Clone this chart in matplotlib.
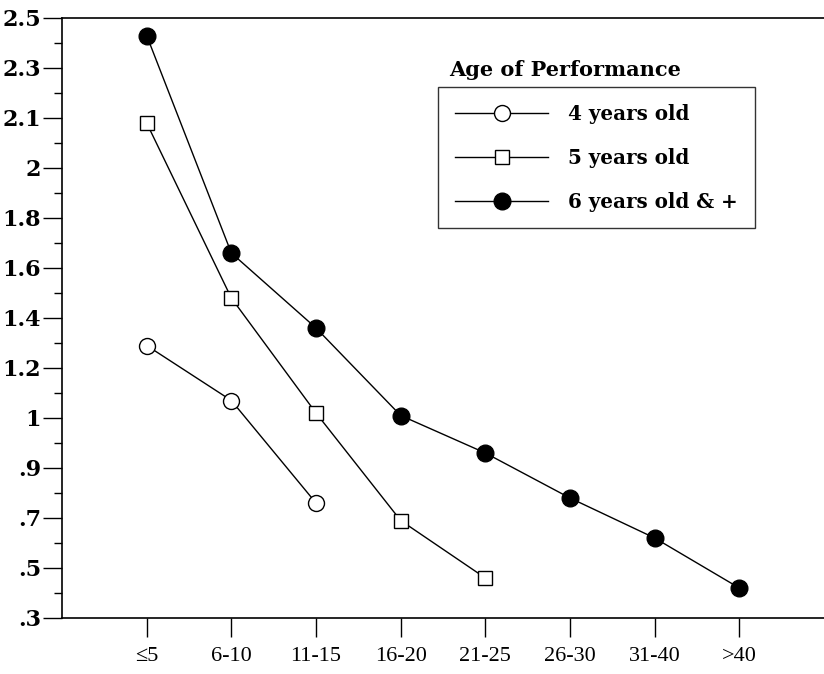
import numpy as np
import matplotlib.pyplot as plt

# age groups on the x axis
categories = ["≤5", "6-10", "11-15", "16-20", "21-25", "26-30", "31-40", ">40"]

# values (axis labels are unevenly spaced in value)
four_years = [1.29, 1.07, 0.76]
five_years = [2.09, 1.48, 1.02, 0.69, 0.46]
six_years = [2.43, 1.66, 1.36, 1.01, 0.93, 0.78, 0.62, 0.42]

# the printed y axis: equally spaced ticks with these labels
ytick_values = [0.3, 0.5, 0.7, 0.9, 1.0, 1.2, 1.4, 1.6, 1.8, 2.0, 2.1, 2.3, 2.5]
ytick_labels = [".3", ".5", ".7", ".9", "1", "1.2", "1.4", "1.6", "1.8", "2", "2.1", "2.3", "2.5"]

pos = np.arange(len(ytick_values))


def fwd(v):
    return np.interp(v, ytick_values, pos)


def inv(p):
    return np.interp(p, pos, ytick_values)


plt.rcParams["font.family"] = ["DejaVu Serif"]

fig = plt.figure(figsize=(8.24, 6.74), dpi=100)
ax = fig.add_axes([62 / 824, 1 - 618 / 674, 1 - 62 / 824, 600 / 674])
ax.set_yscale("function", functions=(fwd, inv))

x = np.arange(len(categories))
ax.plot(x[:len(four_years)], four_years, color="black", lw=1, marker="o",
        ms=11.5, mfc="white", mec="black", mew=1, label="4 years old")
ax.plot(x[:len(five_years)], five_years, color="black", lw=1, marker="s",
        ms=10, mfc="white", mec="black", mew=1, label="5 years old")
ax.plot(x, six_years, color="black", lw=1, marker="o",
        ms=12, mfc="black", mec="black", label="6 years old & +")

ax.set_xlim(-1, 8)
ax.set_ylim(0.3, 2.5)
ax.set_xticks(x)
ax.set_xticklabels(categories, fontsize=16, family="Liberation Serif")
ax.set_yticks(ytick_values)
ax.set_yticklabels(ytick_labels, fontsize=16, fontweight="bold")
minor = inv(pos[:-1] + 0.5)
ax.set_yticks(minor, minor=True)
ax.tick_params(axis="y", which="major", length=14, width=1, direction="out", pad=1)
ax.tick_params(axis="y", which="minor", length=6, width=1, direction="out")
ax.tick_params(axis="x", which="major", length=14, width=1, direction="out", pad=7)

ax.spines["right"].set_visible(False)
for s in ["left", "top", "bottom"]:
    ax.spines[s].set_linewidth(1.2)

fig.text(565 / 824, 1 - 70 / 674, "Age of Performance", ha="center", va="center",
         fontsize=15, fontweight="bold")
ax.legend(loc="upper left", bbox_to_anchor=((438 - 62) / 762, 1 - (87 - 18) / 600),
          borderaxespad=0, frameon=True, fancybox=False, edgecolor="black",
          handlelength=4.7, borderpad=0.85, labelspacing=1.2, handletextpad=1.0,
          prop={"size": 14.3, "weight": "bold"})

fig.savefig("out.png", dpi=100)
